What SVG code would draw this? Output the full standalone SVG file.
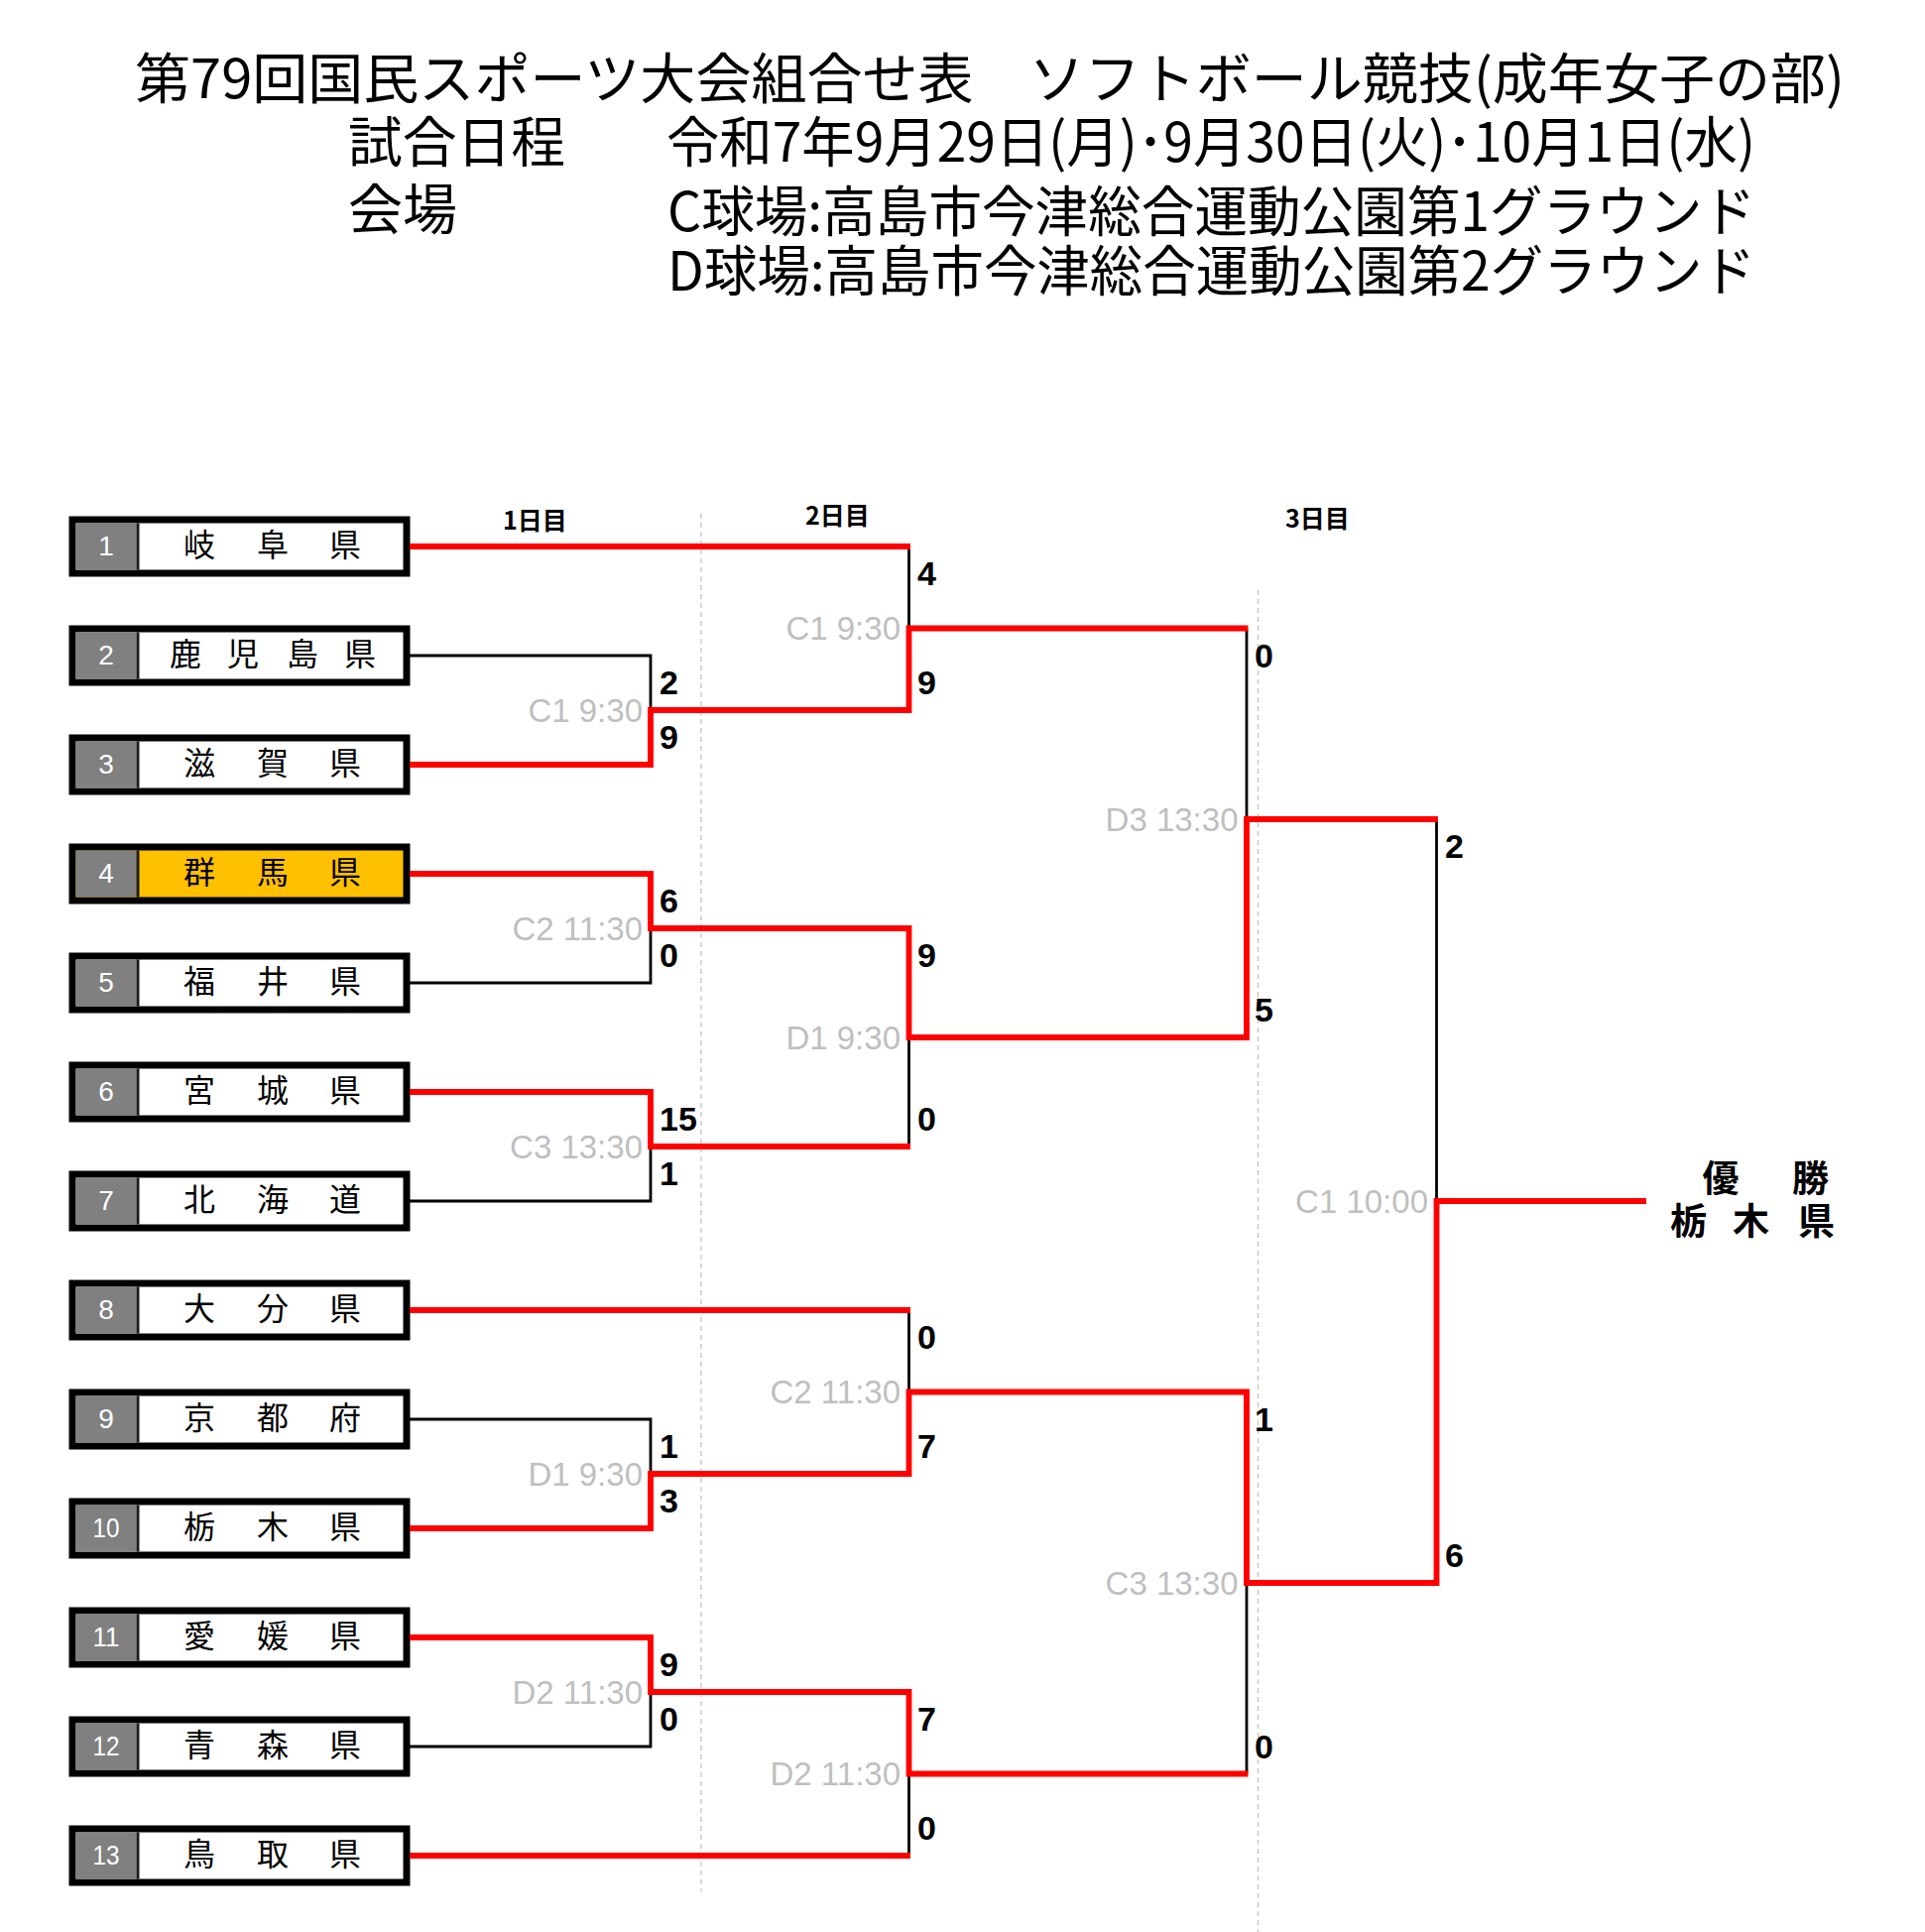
<svg xmlns="http://www.w3.org/2000/svg" width="1941" height="1948" viewBox="0 0 1941 1948">
<style>
.ttl{font-family:'Noto Sans CJK JP','Noto Sans CJK SC',sans-serif;font-size:55px;fill:#000}
.day{font-family:'Noto Sans CJK JP','Noto Sans CJK SC',sans-serif;font-size:25px;font-weight:bold;fill:#000}
.frame{fill:#fff;stroke:#000;stroke-width:7}
.frame.hl{fill:#FFC000}
.num{fill:#808080}
.sep{stroke:#1a1a1a;stroke-width:3}
.no{font-family:'Liberation Sans',Arial,sans-serif;font-size:28px;fill:#fff;text-anchor:middle}
.nm{font-family:'Noto Sans CJK JP','Noto Sans CJK SC',sans-serif;font-size:32px;fill:#000;text-anchor:middle}
.red{fill:none;stroke:#FF0000;stroke-width:5.8;stroke-linejoin:miter;stroke-linecap:butt}
.blk{fill:none;stroke:#000;stroke-width:2.8;stroke-linecap:butt}
.dash{stroke:#BFBFBF;stroke-width:1.2;stroke-dasharray:5 4;fill:none}
.sc{font-family:'Liberation Sans',Arial,sans-serif;font-size:34px;font-weight:bold;fill:#000}
.lb{font-family:'Liberation Sans',Arial,sans-serif;font-size:33px;fill:#BFBFBF;text-anchor:end}
.win{font-family:'Noto Sans CJK JP','Noto Sans CJK SC',sans-serif;font-size:37px;font-weight:bold;fill:#000;text-anchor:middle}
</style>
<rect x="0" y="0" width="1941" height="1948" fill="#fff"/>

<g id="title">
<text class="ttl" x="136" y="99" textLength="1724" lengthAdjust="spacingAndGlyphs">第79回国民スポーツ大会組合せ表　ソフトボール競技(成年女子の部)</text>
<text class="ttl" x="351" y="162.5" textLength="219" lengthAdjust="spacingAndGlyphs">試合日程</text>
<text class="ttl" x="672" y="162.5" textLength="1098" lengthAdjust="spacingAndGlyphs">令和7年9月29日(月)･9月30日(火)･10月1日(水)</text>
<text class="ttl" x="351" y="231">会場</text>
<text class="ttl" x="673" y="233" textLength="1097" lengthAdjust="spacingAndGlyphs">C球場:高島市今津総合運動公園第1グラウンド</text>
<text class="ttl" x="673" y="292.5" textLength="1097" lengthAdjust="spacingAndGlyphs">D球場:高島市今津総合運動公園第2グラウンド</text>
</g>

<g id="day-labels">
<text class="day" x="507" y="534">1日目</text>
<text class="day" x="812" y="529">2日目</text>
<text class="day" x="1296" y="532">3日目</text>
</g>

<g id="guides">
<line class="dash" x1="707" y1="518" x2="707" y2="1907"/>
<line class="dash" x1="1268.5" y1="595" x2="1268.5" y2="1948"/>
</g>

<g id="team-1"><rect class="frame" x="73" y="524" width="337" height="54"/><rect class="num" x="76.5" y="527.5" width="61" height="47"/><line class="sep" x1="139" y1="527.5" x2="139" y2="574.5"/><text class="no" x="107" y="560">1</text><text class="nm" x="201 275 348" y="560.5">岐阜県</text></g>
<g id="team-2"><rect class="frame" x="73" y="634" width="337" height="54"/><rect class="num" x="76.5" y="637.5" width="61" height="47"/><line class="sep" x1="139" y1="637.5" x2="139" y2="684.5"/><text class="no" x="107" y="670">2</text><text class="nm" x="187 245 305 363" y="670.5">鹿児島県</text></g>
<g id="team-3"><rect class="frame" x="73" y="744" width="337" height="54"/><rect class="num" x="76.5" y="747.5" width="61" height="47"/><line class="sep" x1="139" y1="747.5" x2="139" y2="794.5"/><text class="no" x="107" y="780">3</text><text class="nm" x="201 275 348" y="780.5">滋賀県</text></g>
<g id="team-4"><rect class="frame hl" x="73" y="854" width="337" height="54"/><rect class="num" x="76.5" y="857.5" width="61" height="47"/><line class="sep" x1="139" y1="857.5" x2="139" y2="904.5"/><text class="no" x="107" y="890">4</text><text class="nm" x="201 275 348" y="890.5">群馬県</text></g>
<g id="team-5"><rect class="frame" x="73" y="964" width="337" height="54"/><rect class="num" x="76.5" y="967.5" width="61" height="47"/><line class="sep" x1="139" y1="967.5" x2="139" y2="1014.5"/><text class="no" x="107" y="1000">5</text><text class="nm" x="201 275 348" y="1000.5">福井県</text></g>
<g id="team-6"><rect class="frame" x="73" y="1074" width="337" height="54"/><rect class="num" x="76.5" y="1077.5" width="61" height="47"/><line class="sep" x1="139" y1="1077.5" x2="139" y2="1124.5"/><text class="no" x="107" y="1110">6</text><text class="nm" x="201 275 348" y="1110.5">宮城県</text></g>
<g id="team-7"><rect class="frame" x="73" y="1184" width="337" height="54"/><rect class="num" x="76.5" y="1187.5" width="61" height="47"/><line class="sep" x1="139" y1="1187.5" x2="139" y2="1234.5"/><text class="no" x="107" y="1220">7</text><text class="nm" x="201 275 348" y="1220.5">北海道</text></g>
<g id="team-8"><rect class="frame" x="73" y="1294" width="337" height="54"/><rect class="num" x="76.5" y="1297.5" width="61" height="47"/><line class="sep" x1="139" y1="1297.5" x2="139" y2="1344.5"/><text class="no" x="107" y="1330">8</text><text class="nm" x="201 275 348" y="1330.5">大分県</text></g>
<g id="team-9"><rect class="frame" x="73" y="1404" width="337" height="54"/><rect class="num" x="76.5" y="1407.5" width="61" height="47"/><line class="sep" x1="139" y1="1407.5" x2="139" y2="1454.5"/><text class="no" x="107" y="1440">9</text><text class="nm" x="201 275 348" y="1440.5">京都府</text></g>
<g id="team-10"><rect class="frame" x="73" y="1514" width="337" height="54"/><rect class="num" x="76.5" y="1517.5" width="61" height="47"/><line class="sep" x1="139" y1="1517.5" x2="139" y2="1564.5"/><text class="no" x="107" y="1550" textLength="27" lengthAdjust="spacingAndGlyphs">10</text><text class="nm" x="201 275 348" y="1550.5">栃木県</text></g>
<g id="team-11"><rect class="frame" x="73" y="1624" width="337" height="54"/><rect class="num" x="76.5" y="1627.5" width="61" height="47"/><line class="sep" x1="139" y1="1627.5" x2="139" y2="1674.5"/><text class="no" x="107" y="1660" textLength="27" lengthAdjust="spacingAndGlyphs">11</text><text class="nm" x="201 275 348" y="1660.5">愛媛県</text></g>
<g id="team-12"><rect class="frame" x="73" y="1734" width="337" height="54"/><rect class="num" x="76.5" y="1737.5" width="61" height="47"/><line class="sep" x1="139" y1="1737.5" x2="139" y2="1784.5"/><text class="no" x="107" y="1770" textLength="27" lengthAdjust="spacingAndGlyphs">12</text><text class="nm" x="201 275 348" y="1770.5">青森県</text></g>
<g id="team-13"><rect class="frame" x="73" y="1844" width="337" height="54"/><rect class="num" x="76.5" y="1847.5" width="61" height="47"/><line class="sep" x1="139" y1="1847.5" x2="139" y2="1894.5"/><text class="no" x="107" y="1880" textLength="27" lengthAdjust="spacingAndGlyphs">13</text><text class="nm" x="201 275 348" y="1880.5">鳥取県</text></g>

<g id="connectors">
<path class="blk" d="M413,661 H656 V716"/>
<path class="blk" d="M413,991 H656 V936"/>
<path class="blk" d="M413,1211 H656 V1156"/>
<path class="blk" d="M413,1431 H656 V1486"/>
<path class="blk" d="M413,1761 H656 V1706"/>
<path class="blk" d="M916.5,551 V633.5"/>
<path class="blk" d="M916.5,1156 V1046"/>
<path class="blk" d="M916.5,1321 V1403.5"/>
<path class="blk" d="M916.5,1871 V1788.5"/>
<path class="blk" d="M1257,633.5 V826"/>
<path class="blk" d="M1257,1788.5 V1596"/>
<path class="blk" d="M1448.5,826 V1211"/>
<path class="red" d="M413,551 H918"/>
<path class="red" d="M413,771 H656 V716 H916.5 V633.5 H1258.4"/>
<path class="red" d="M413,881 H656 V936 H916.5 V1046 H1257 V826 H1449.9"/>
<path class="red" d="M413,1101 H656 V1156 H918"/>
<path class="red" d="M413,1321 H918"/>
<path class="red" d="M413,1541 H656 V1486 H916.5 V1403.5 H1257 V1596 H1448.5 V1211 H1660"/>
<path class="red" d="M413,1651 H656 V1706 H916.5 V1788.5 H1258.4"/>
<path class="red" d="M413,1871 H918"/>
</g>

<g id="match-labels">
<text class="lb" x="648" y="727.5">C1 9:30</text>
<text class="lb" x="648" y="947.5">C2 11:30</text>
<text class="lb" x="648" y="1167.5">C3 13:30</text>
<text class="lb" x="648" y="1497.5">D1 9:30</text>
<text class="lb" x="648" y="1717.5">D2 11:30</text>
<text class="lb" x="908" y="645">C1 9:30</text>
<text class="lb" x="908" y="1057.5">D1 9:30</text>
<text class="lb" x="908" y="1415">C2 11:30</text>
<text class="lb" x="908" y="1800">D2 11:30</text>
<text class="lb" x="1248.5" y="837.5">D3 13:30</text>
<text class="lb" x="1248.5" y="1607.5">C3 13:30</text>
<text class="lb" x="1440" y="1222.5">C1 10:00</text>
</g>

<g id="scores">
<text class="sc" x="665" y="700">2</text><text class="sc" x="665" y="755">9</text>
<text class="sc" x="665" y="920">6</text><text class="sc" x="665" y="975">0</text>
<text class="sc" x="665" y="1140">15</text><text class="sc" x="665" y="1195">1</text>
<text class="sc" x="665" y="1470">1</text><text class="sc" x="665" y="1525">3</text>
<text class="sc" x="665" y="1690">9</text><text class="sc" x="665" y="1745">0</text>
<text class="sc" x="925" y="590">4</text><text class="sc" x="925" y="700">9</text>
<text class="sc" x="925" y="975">9</text><text class="sc" x="925" y="1140">0</text>
<text class="sc" x="925" y="1360">0</text><text class="sc" x="925" y="1470">7</text>
<text class="sc" x="925" y="1745">7</text><text class="sc" x="925" y="1855">0</text>
<text class="sc" x="1265" y="672.5">0</text><text class="sc" x="1265" y="1030">5</text>
<text class="sc" x="1265" y="1442.5">1</text><text class="sc" x="1265" y="1772.5">0</text>
<text class="sc" x="1457" y="865">2</text><text class="sc" x="1457" y="1580">6</text>
</g>

<g id="champion">
<text class="win" x="1735 1825.5" y="1202">優勝</text>
<text class="win" x="1702.5 1765.5 1831.5" y="1245">栃木県</text>
</g>
</svg>
